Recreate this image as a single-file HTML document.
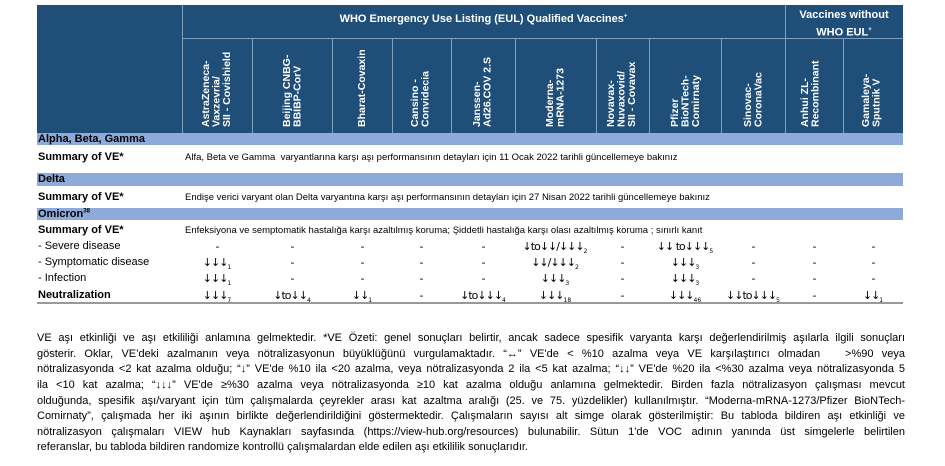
<!DOCTYPE html>
<html><head><meta charset="utf-8"><style>
*{margin:0;padding:0;box-sizing:border-box}
body{width:945px;height:466px;background:#fff;position:relative;overflow:hidden;font-family:"Liberation Sans",sans-serif;color:#000}
.a{position:absolute}
.hd{background:#1f4e79;}
.vl{position:absolute;top:38px;height:95px;width:1px;background:#7f9fbf}
.vt{position:absolute;top:40px;height:87px;writing-mode:vertical-rl;transform:rotate(180deg);color:#fff;font-weight:bold;font-size:10.5px;line-height:10.5px;text-align:left;white-space:nowrap}
.band{position:absolute;left:37px;width:866px;background:#8eaadb}
.lab{position:absolute;left:38px;font-size:11px;font-weight:bold;white-space:nowrap}
.lab2{position:absolute;left:38px;font-size:11px;white-space:nowrap}
.sm{position:absolute;font-size:9.5px;white-space:nowrap}
.c{position:absolute;font-size:11px;white-space:nowrap;transform:translateX(-50%);font-family:"DejaVu Sans","Liberation Sans",sans-serif;letter-spacing:-1px}
.c sub{font-size:6px;letter-spacing:0}
.p{position:absolute;left:37px;width:868px;font-size:11px;line-height:12px;text-align:justify;text-align-last:justify;white-space:nowrap}
.p.l{text-align-last:left}
</style></head><body>
<div class="a hd" style="left:37px;top:5px;width:866px;height:128px"></div>
<div class="a" style="left:182px;top:5px;width:1px;height:128px;background:#7f9fbf"></div>
<div class="a" style="left:785px;top:5px;width:1px;height:128px;background:#7f9fbf"></div>
<div class="a" style="left:182px;top:38px;width:721px;height:1px;background:#7f9fbf"></div>
<div class="a" style="left:182px;top:13px;width:603px;text-align:center;color:#fff;font-weight:bold;font-size:11px">WHO Emergency Use Listing (EUL) Qualified Vaccines<sup style="font-size:6px">+</sup></div>
<div class="a" style="left:785px;top:8px;width:118px;text-align:center;color:#fff;font-weight:bold;font-size:11px;line-height:15px">Vaccines without<br>WHO EUL<sup style="font-size:6px">+</sup></div>
<div class="vl" style="left:252px"></div><div class="vl" style="left:332px"></div><div class="vl" style="left:392px"></div><div class="vl" style="left:451px"></div><div class="vl" style="left:515px"></div><div class="vl" style="left:596px"></div><div class="vl" style="left:649px"></div><div class="vl" style="left:721px"></div><div class="vl" style="left:843px"></div>
<div class="vt" style="left:201px">AstraZeneca-<br>Vaxzevria/<br>SII - Covishield</div>
<div class="vt" style="left:282px">Beijing CNBG-<br>BBIBP-CorV</div>
<div class="vt" style="left:357px">Bharat-Covaxin</div>
<div class="vt" style="left:410px">Cansino -<br>Convidecia</div>
<div class="vt" style="left:472px">Janssen-<br>Ad26.COV 2.S</div>
<div class="vt" style="left:545px">Moderna-<br>mRNA-1273</div>
<div class="vt" style="left:606px">Novavax-<br>Nuvaxovid/<br>SII - Covavax</div>
<div class="vt" style="left:670px">Pfizer<br>BioNTech-<br>Comirnaty</div>
<div class="vt" style="left:743px">Sinovac-<br>CoronaVac</div>
<div class="vt" style="left:800px">Anhui ZL-<br>Recombinant</div>
<div class="vt" style="left:861px">Gamaleya-<br>Sputnik V</div>

<div class="band" style="top:133px;height:12px"></div>
<div class="band" style="top:173px;height:13px"></div>
<div class="band" style="top:208px;height:12px"></div>
<div class="lab" style="top:133px">Alpha, Beta, Gamma</div>
<div class="lab" style="top:151px">Summary of VE*</div>
<div class="sm" style="left:185px;top:152px">Alfa, Beta ve Gamma&nbsp; varyantlarına karşı aşı performansının detayları için 11 Ocak 2022 tarihli güncellemeye bakınız</div>
<div class="lab" style="top:173px">Delta</div>
<div class="lab" style="top:191px">Summary of VE*</div>
<div class="sm" style="left:185px;top:192px">Endişe verici varyant olan Delta varyantına karşı aşı performansının detayları için 27 Nisan 2022 tarihli güncellemeye bakınız</div>
<div class="lab" style="top:208px">Omicron<sup style="font-size:6px">38</sup></div>
<div class="lab" style="top:224px">Summary of VE*</div>
<div class="sm" style="left:185px;top:225px">Enfeksiyona ve semptomatik hastalığa karşı azaltılmış koruma; Şiddetli hastalığa karşı olası azaltılmış koruma ; sınırlı kanıt</div>
<div class="lab2" style="top:240px">- Severe disease</div>
<div class="lab2" style="top:256px">- Symptomatic disease</div>
<div class="lab2" style="top:272px">- Infection</div>
<div class="lab" style="top:289px">Neutralization</div>
<div class="a" style="left:37px;top:302px;width:866px;height:2px;background:#999"></div>

<div class="c" style="left:217px;top:240px">-</div><div class="c" style="left:292px;top:240px">-</div><div class="c" style="left:362px;top:240px">-</div><div class="c" style="left:421px;top:240px">-</div><div class="c" style="left:483px;top:240px">-</div><div class="c" style="left:555px;top:240px">↓to↓↓/↓↓↓<sub>2</sub></div><div class="c" style="left:622px;top:240px">-</div><div class="c" style="left:685px;top:240px">↓↓ to↓↓↓<sub>5</sub></div><div class="c" style="left:753px;top:240px">-</div><div class="c" style="left:814px;top:240px">-</div><div class="c" style="left:873px;top:240px">-</div>
<div class="c" style="left:217px;top:256px">↓↓↓<sub>1</sub></div><div class="c" style="left:292px;top:256px">-</div><div class="c" style="left:362px;top:256px">-</div><div class="c" style="left:421px;top:256px">-</div><div class="c" style="left:483px;top:256px">-</div><div class="c" style="left:555px;top:256px">↓↓/↓↓↓<sub>2</sub></div><div class="c" style="left:622px;top:256px">-</div><div class="c" style="left:685px;top:256px">↓↓↓<sub>3</sub></div><div class="c" style="left:753px;top:256px">-</div><div class="c" style="left:814px;top:256px">-</div><div class="c" style="left:873px;top:256px">-</div>
<div class="c" style="left:217px;top:272px">↓↓↓<sub>1</sub></div><div class="c" style="left:292px;top:272px">-</div><div class="c" style="left:362px;top:272px">-</div><div class="c" style="left:421px;top:272px">-</div><div class="c" style="left:483px;top:272px">-</div><div class="c" style="left:555px;top:272px">↓↓↓<sub>3</sub></div><div class="c" style="left:622px;top:272px">-</div><div class="c" style="left:685px;top:272px">↓↓↓<sub>3</sub></div><div class="c" style="left:753px;top:272px">-</div><div class="c" style="left:814px;top:272px">-</div><div class="c" style="left:873px;top:272px">-</div>
<div class="c" style="left:217px;top:289px">↓↓↓<sub>7</sub></div><div class="c" style="left:292px;top:289px">↓to↓↓<sub>4</sub></div><div class="c" style="left:362px;top:289px">↓↓<sub>1</sub></div><div class="c" style="left:421px;top:289px">-</div><div class="c" style="left:483px;top:289px">↓to↓↓↓<sub>4</sub></div><div class="c" style="left:555px;top:289px">↓↓↓<sub>18</sub></div><div class="c" style="left:622px;top:289px">-</div><div class="c" style="left:685px;top:289px">↓↓↓<sub>46</sub></div><div class="c" style="left:753px;top:289px">↓↓to↓↓↓<sub>5</sub></div><div class="c" style="left:814px;top:289px">-</div><div class="c" style="left:873px;top:289px">↓↓<sub>1</sub></div>

<div class="p" style="top:332px">VE aşı etkinliği ve aşı etkililiği anlamına gelmektedir. *VE Özeti: genel sonuçları belirtir, ancak sadece spesifik varyanta karşı değerlendirilmiş aşılarla ilgili sonuçları</div>
<div class="p" style="top:348px">gösterir. Oklar, VE’deki azalmanın veya nötralizasyonun büyüklüğünü vurgulamaktadır. “↔” VE'de &lt; %10 azalma veya VE karşılaştırıcı olmadan &nbsp; &gt;%90 veya</div>
<div class="p" style="top:363px">nötralizasyonda &lt;2 kat azalma olduğu; “↓” VE'de %10 ila &lt;20 azalma, veya nötralizasyonda 2 ila &lt;5 kat azalma; “↓↓” VE'de %20 ila &lt;%30 azalma veya nötralizasyonda 5</div>
<div class="p" style="top:379px">ila &lt;10 kat azalma; “↓↓↓” VE'de ≥%30 azalma veya nötralizasyonda ≥10 kat azalma olduğu anlamına gelmektedir. Birden fazla nötralizasyon çalışması mevcut</div>
<div class="p" style="top:395px">olduğunda, spesifik aşı/varyant için tüm çalışmalarda çeyrekler arası kat azaltma aralığı (25. ve 75. yüzdelikler) kullanılmıştır. “Moderna-mRNA-1273/Pfizer BioNTech-</div>
<div class="p" style="top:410px">Comirnaty”, çalışmada her iki aşının birlikte değerlendirildiğini göstermektedir. Çalışmaların sayısı alt simge olarak gösterilmiştir: Bu tabloda bildiren aşı etkinliği ve</div>
<div class="p" style="top:426px">nötralizasyon çalışmaları VIEW hub Kaynakları sayfasında (https://view-hub.org/resources) bulunabilir. Sütun 1'de VOC adının yanında üst simgelerle belirtilen</div>
<div class="p l" style="top:441px">referanslar, bu tabloda bildiren randomize kontrollü çalışmalardan elde edilen aşı etkililik sonuçlarıdır.</div>
</body></html>
